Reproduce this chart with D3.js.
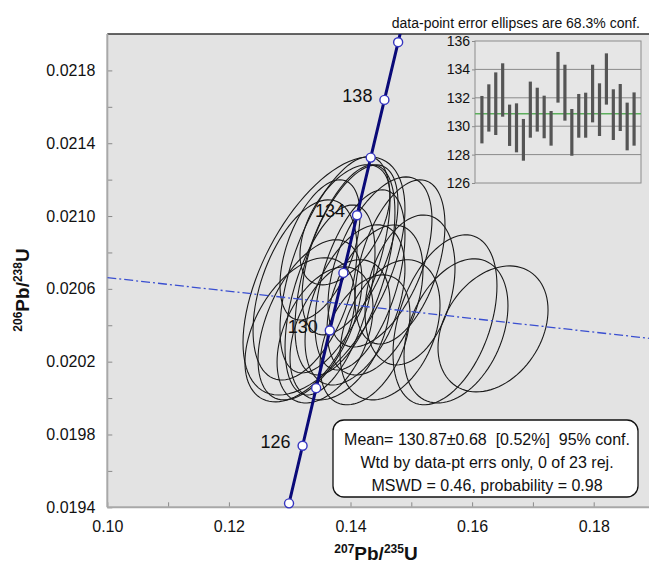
<!DOCTYPE html>
<html><head><meta charset="utf-8">
<script src="https://cdn.jsdelivr.net/npm/d3@7"></script>
<style>
html,body{margin:0;padding:0;background:#fff;}
svg{display:block;font-family:"Liberation Sans",Arial,sans-serif;}
.pre{white-space:pre;}
</style></head>
<body><svg id="c" width="649" height="564"></svg>
<script>
// ---- data ----
const xMajorTicks = [0.10, 0.12, 0.14, 0.16, 0.18];
const xMinorTicks = [0.11, 0.13, 0.15, 0.17, 0.19];
const yMajorTicks = [0.0194, 0.0198, 0.0202, 0.0206, 0.0210, 0.0214, 0.0218];
const yMinorTicks = [0.0196, 0.0200, 0.0204, 0.0208, 0.0212, 0.0216];
// concordia points (age Ma, 207Pb/235U, 206Pb/238U)
const concAge = [122, 124, 126, 128, 130, 132, 134, 136, 138, 140, 142];
const concX = [0.127468, 0.129891, 0.132119, 0.134351, 0.136588, 0.138829, 0.141074, 0.143324, 0.145578, 0.147837, 0.150100];
const concY = [0.0191055, 0.0194217, 0.0197380, 0.0200544, 0.0203710, 0.0206876, 0.0210043, 0.0213211, 0.0216380, 0.0219550, 0.0222722];
const concMarkerAges = [124, 126, 128, 130, 132, 134, 136, 138, 140];
const concLabelAges = [126, 130, 134, 138];
// error ellipses: centre, half-extent, correlation
const ellX = [0.13564,0.13745,0.13909,0.14485,0.14814,0.15554,0.15735,0.16344,0.14979,0.13169,0.13334,0.13581,0.13827,0.14074,0.14156,0.13992,0.13663,0.14403,0.13498,0.13909,0.13252,0.14650,0.14238];
const ellY = [0.020671,0.020732,0.020704,0.020748,0.020748,0.020430,0.020369,0.020380,0.020594,0.020375,0.020430,0.020347,0.020375,0.020512,0.020649,0.020814,0.020539,0.020539,0.020814,0.020952,0.020594,0.020375,0.020320];
const ellW = [0.01332,0.00905,0.00822,0.00855,0.00740,0.00855,0.00855,0.00905,0.00740,0.00905,0.00855,0.00789,0.00822,0.00822,0.00740,0.00789,0.00740,0.00789,0.00658,0.00740,0.00855,0.00822,0.00740];
const ellH = [0.000654,0.000594,0.000577,0.000467,0.000451,0.000467,0.000396,0.000346,0.000412,0.000396,0.000440,0.000374,0.000385,0.000440,0.000495,0.000467,0.000522,0.000412,0.000385,0.000330,0.000495,0.000385,0.000357];
const ellRho = [0.56,0.60,0.55,0.50,0.45,0.40,0.35,0.30,0.30,0.45,0.50,0.40,0.40,0.45,0.50,0.55,0.50,0.40,0.50,0.50,0.45,0.35,0.40];
// reference (dash-dot) line
const refLineX = [0.10, 0.19];
const refLineY = [0.020662, 0.020325];
// inset: ages of 23 analyses (error bar low / high)
const barLow  = [128.79,129.62,129.38,130.67,128.61,128.16,127.57,129.19,129.62,129.15,128.63,131.66,130.39,127.92,129.19,129.19,130.27,129.31,131.52,129.03,129.66,128.30,128.63];
const barHigh = [132.13,132.95,133.79,134.43,131.52,131.61,130.51,133.14,132.71,132.15,131.07,135.23,134.33,131.21,132.27,132.36,134.33,133.02,135.13,132.60,132.97,131.66,132.38];
const insetTicks = [126, 128, 130, 132, 134, 136];
const insetGrid = [128, 130, 132, 134];
const meanAge = 130.87;
const caption = "data-point error ellipses are 68.3% conf.";
const boxLines = ["Mean= 130.87\u00B10.68  [0.52%]  95% conf.", "Wtd by data-pt errs only, 0 of 23 rej.", "MSWD = 0.46, probability = 0.98"];

// ---- layout ----
const svg = d3.select("#c");
const L = 107.3, R = 654.5, T = 34, B = 507.3;
const x = d3.scaleLinear().domain([0.10, 0.19]).range([L, R]);
const y = d3.scaleLinear().domain([0.0194, 0.0220]).range([B, T]);

svg.append("defs").append("clipPath").attr("id","pc")
  .append("rect").attr("x",L).attr("y",T).attr("width",R-L).attr("height",B-T);

svg.append("rect").attr("x",L).attr("y",T).attr("width",R-L).attr("height",B-T).attr("fill","#e3e3e3");

// axes
const fmtY = d3.format(".4f"), fmtX = d3.format(".2f");
const gy = svg.append("g").attr("transform",`translate(${L},0)`)
  .call(d3.axisLeft(y).tickValues(yMajorTicks).tickSize(-5).tickPadding(12).tickFormat(fmtY));
const gy2 = svg.append("g").attr("transform",`translate(${L},0)`)
  .call(d3.axisLeft(y).tickValues(yMinorTicks).tickSize(-5).tickFormat(""));
const gx = svg.append("g").attr("transform",`translate(0,${B})`)
  .call(d3.axisBottom(x).tickValues(xMajorTicks).tickSize(-5).tickPadding(13).tickFormat(fmtX));
const gx2 = svg.append("g").attr("transform",`translate(0,${B})`)
  .call(d3.axisBottom(x).tickValues(xMinorTicks).tickSize(-5).tickFormat(""));
[gy,gy2,gx,gx2].forEach(g=>{
  g.select(".domain").remove();
  g.selectAll(".tick line").attr("stroke","#8a8a8a");
  g.selectAll("text").attr("font-size",16).attr("fill","#111").attr("font-family","Liberation Sans, Arial, sans-serif");
});

// frame
svg.append("line").attr("x1",L).attr("x2",R).attr("y1",T).attr("y2",T).attr("stroke","#333").attr("stroke-width",1.5);
svg.append("line").attr("x1",L).attr("x2",L).attr("y1",T).attr("y2",B).attr("stroke","#a8a8a8").attr("stroke-width",2);
svg.append("line").attr("x1",L).attr("x2",R).attr("y1",B).attr("y2",B).attr("stroke","#a8a8a8").attr("stroke-width",2);

const plot = svg.append("g").attr("clip-path","url(#pc)");

// ellipses
const line = d3.line().x(d=>x(d[0])).y(d=>y(d[1])).curve(d3.curveLinearClosed);
ellX.forEach((cx,i)=>{
  const pts = d3.range(0, 90).map(k=>{
    const t = k/90*2*Math.PI;
    const r = ellRho[i];
    return [cx + ellW[i]*Math.cos(t), ellY[i] + ellH[i]*(r*Math.cos(t) + Math.sqrt(1-r*r)*Math.sin(t))];
  });
  plot.append("path").attr("d", line(pts)).attr("fill","none").attr("stroke","#1a1a1a").attr("stroke-width",1.1);
});

// dash-dot reference line
plot.append("line").attr("x1",x(refLineX[0])).attr("y1",y(refLineY[0])).attr("x2",x(refLineX[1])).attr("y2",y(refLineY[1]))
  .attr("stroke","#3a4fd0").attr("stroke-width",1.3).attr("stroke-dasharray","9,3,2,3");

// concordia
const cl = d3.line().x((d,i)=>x(concX[i])).y((d,i)=>y(concY[i]));
plot.append("path").attr("d", cl(concAge)).attr("fill","none").attr("stroke","#0a0a78").attr("stroke-width",3);
concMarkerAges.forEach(a=>{
  const i = concAge.indexOf(a);
  svg.append("circle").attr("cx",x(concX[i])).attr("cy",y(concY[i])).attr("r",4.5)
    .attr("fill","#fff").attr("stroke","#3535c0").attr("stroke-width",1.4);
});
concLabelAges.forEach(a=>{
  const i = concAge.indexOf(a);
  svg.append("text").attr("x",x(concX[i])-12).attr("y",y(concY[i])+2).attr("text-anchor","end")
    .attr("font-size",18).attr("fill","#111").text(a);
});

// caption
svg.append("text").attr("x",640).attr("y",28).attr("text-anchor","end").attr("font-size",14).attr("fill","#111").text(caption);

// axis titles
const xt = svg.append("text").attr("x",376).attr("y",560).attr("text-anchor","middle").attr("font-weight","bold").attr("fill","#111");
xt.append("tspan").attr("font-size",12).attr("dy",-7).text("207");
xt.append("tspan").attr("font-size",19).attr("dy",7).text("Pb/");
xt.append("tspan").attr("font-size",12).attr("dy",-7).text("235");
xt.append("tspan").attr("font-size",19).attr("dy",7).text("U");
const yt = svg.append("text").attr("transform","translate(29,290) rotate(-90)").attr("text-anchor","middle").attr("font-weight","bold").attr("fill","#111");
yt.append("tspan").attr("font-size",12).attr("dy",-7).text("206");
yt.append("tspan").attr("font-size",19).attr("dy",7).text("Pb/");
yt.append("tspan").attr("font-size",12).attr("dy",-7).text("238");
yt.append("tspan").attr("font-size",19).attr("dy",7).text("U");

// inset
const iL = 475, iR = 641, iT = 41, iB = 183;
const ix = d3.scaleLinear().domain([0, barLow.length+1]).range([iL, iR]);
const iy = d3.scaleLinear().domain([126, 136]).range([iB, iT]);
svg.append("rect").attr("x",iL).attr("y",iT).attr("width",iR-iL).attr("height",iB-iT).attr("fill","#e6e6e6").attr("stroke","#8c8c8c").attr("stroke-width",1);
svg.selectAll(".ig").data(insetGrid).join("line").attr("x1",iL).attr("x2",iR).attr("y1",d=>iy(d)).attr("y2",d=>iy(d))
  .attr("stroke","#8a8a8a").attr("stroke-width",1);
svg.append("line").attr("x1",iL).attr("x2",iR).attr("y1",iy(meanAge)).attr("y2",iy(meanAge)).attr("stroke","#5cae5c").attr("stroke-width",1.5);
barLow.forEach((lo,i)=>{
  svg.append("line").attr("x1",ix(i+1)).attr("x2",ix(i+1)).attr("y1",iy(lo)).attr("y2",iy(barHigh[i]))
    .attr("stroke","#555").attr("stroke-width",3.2);
});
const ga = svg.append("g").attr("transform",`translate(${iL},0)`).call(d3.axisLeft(iy).tickValues(insetTicks).tickSize(3).tickPadding(2));
ga.select(".domain").remove();
ga.selectAll(".tick line").attr("stroke","#8a8a8a");
ga.selectAll("text").attr("font-size",14).attr("fill","#111").attr("font-family","Liberation Sans, Arial, sans-serif");

// result box
svg.append("rect").attr("x",333).attr("y",420).attr("width",305).attr("height",77).attr("rx",11).attr("fill","#fff").attr("stroke","#111").attr("stroke-width",1.3);
const by = [445, 468, 491];
boxLines.forEach((t,i)=>{
  svg.append("text").attr("class","pre").attr("x",487).attr("y",by[i]).attr("text-anchor","middle").attr("font-size",16).attr("fill","#111").text(t);
});
</script></body></html>
